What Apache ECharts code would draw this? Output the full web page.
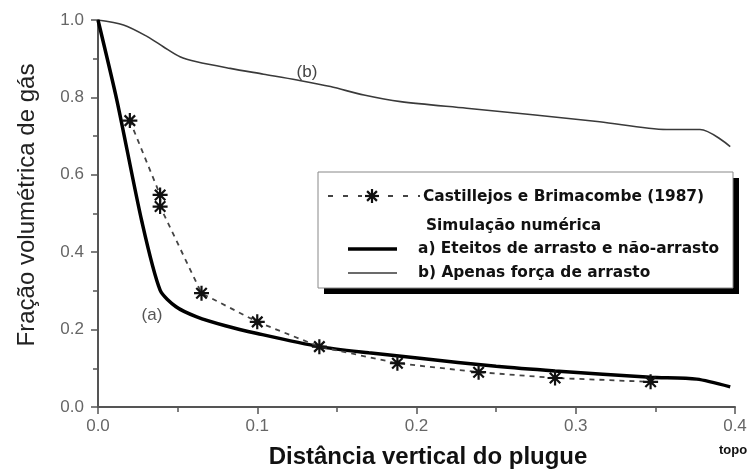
<!DOCTYPE html>
<html>
<head>
<meta charset="utf-8">
<script src="https://cdn.jsdelivr.net/npm/echarts@6/dist/echarts.min.js"></script>
<style>html,body{margin:0;padding:0;background:#fff;}#c{width:750px;height:471px;}</style>
</head>
<body>
<div id="c"></div>
<script>
// Data
var xTicks = [0.0, 0.1, 0.2, 0.3, 0.4];
var yTicks = [0.0, 0.2, 0.4, 0.6, 0.8, 1.0];

// Castillejos e Brimacombe (1987) – experimental points (x, gas fraction)
var expX = [0.020, 0.039, 0.039, 0.065, 0.100, 0.139, 0.188, 0.239, 0.287, 0.347];
var expY = [0.740, 0.548, 0.518, 0.294, 0.220, 0.156, 0.113, 0.090, 0.075, 0.065];

// a) Efeitos de arrasto e não-arrasto (thick)
var aX = [0.000, 0.012, 0.0275, 0.039, 0.049, 0.062, 0.080, 0.100, 0.139, 0.170, 0.202, 0.250, 0.287, 0.347, 0.376, 0.397];
var aY = [1.000, 0.790, 0.480, 0.302, 0.259, 0.233, 0.210, 0.190, 0.156, 0.140, 0.126, 0.105, 0.093, 0.077, 0.072, 0.052];

// b) Apenas força de arrasto (thin)
var bX = [0.000, 0.016, 0.031, 0.041, 0.0515, 0.062, 0.083, 0.104, 0.125, 0.146, 0.167, 0.190, 0.2315, 0.273, 0.315, 0.357, 0.378, 0.397];
var bY = [1.000, 0.987, 0.957, 0.931, 0.905, 0.892, 0.875, 0.860, 0.845, 0.828, 0.806, 0.789, 0.772, 0.755, 0.737, 0.717, 0.717, 0.673];

function zip(xs, ys) { return xs.map(function (x, i) { return [x, ys[i]]; }); }

var star = 'path://M10,0L10,20M0,10L20,10M3,3L17,17M17,3L3,17';

var chart = echarts.init(document.getElementById('c'), null, {renderer: 'canvas'});
var axisCol = '#555';
var labelFont = {color: '#666', fontSize: 17, fontFamily: 'Liberation Sans, Arial, sans-serif'};

var legendX = 318, legendY = 172, legendW = 415, legendH = 116;
var legFont = 'bold 15.4px "DejaVu Sans", sans-serif';

// legend asterisk made of short strokes
function starLines(cx, cy, r) {
  var d = r * 0.7;
  var segs = [[0, -r, 0, r], [-r, 0, r, 0], [-d, -d, d, d], [d, -d, -d, d]];
  return segs.map(function (s) {
    return {type: 'line', z: 13, shape: {x1: cx + s[0], y1: cy + s[1], x2: cx + s[2], y2: cy + s[3]},
      style: {stroke: '#111', lineWidth: 2.2}};
  });
}

var graphics = [
  {type: 'text', x: 27, y: 205, rotation: Math.PI / 2,
    style: {text: 'Fração volumétrica de gás', font: '24px "Liberation Sans", Arial, sans-serif', fill: '#222',
      textAlign: 'center', textVerticalAlign: 'middle'}, silent: true},
  {type: 'text', x: 428, y: 457,
    style: {text: 'Distância vertical do plugue', font: 'bold 24px "Liberation Sans", Arial, sans-serif', fill: '#111',
      textAlign: 'center', textVerticalAlign: 'middle'}},
  {type: 'text', x: 733, y: 450,
    style: {text: 'topo', font: 'bold 13px "Liberation Sans", Arial, sans-serif', fill: '#111',
      textAlign: 'center', textVerticalAlign: 'middle'}},
  {type: 'text', x: 307, y: 72,
    style: {text: '(b)', font: '17px "Liberation Sans", Arial, sans-serif', fill: '#444',
      textAlign: 'center', textVerticalAlign: 'middle'}},
  {type: 'text', x: 152, y: 315,
    style: {text: '(a)', font: '17px "Liberation Sans", Arial, sans-serif', fill: '#555',
      textAlign: 'center', textVerticalAlign: 'middle'}},
  {type: 'rect', shape: {x: legendX + 6, y: legendY + 6, width: legendW, height: legendH},
    style: {fill: '#000'}, z: 10},
  {type: 'rect', shape: {x: legendX, y: legendY, width: legendW, height: legendH},
    style: {fill: '#fff', stroke: '#888', lineWidth: 1}, z: 11},
  {type: 'line', shape: {x1: 328, y1: 196, x2: 420, y2: 196},
    style: {stroke: '#444', lineWidth: 1.8, lineDash: [5, 10]}, z: 12},
  {type: 'rect', shape: {x: 362, y: 186, width: 20, height: 20}, style: {fill: '#fff'}, z: 12},
  {type: 'line', shape: {x1: 348, y1: 249, x2: 397, y2: 249},
    style: {stroke: '#000', lineWidth: 3.5}, z: 12},
  {type: 'line', shape: {x1: 348, y1: 273, x2: 397, y2: 273},
    style: {stroke: '#3a3a3a', lineWidth: 1.6}, z: 12},
  {type: 'text', x: 423, y: 197, z: 12,
    style: {text: 'Castillejos e Brimacombe (1987)', font: legFont, fill: '#111', textVerticalAlign: 'middle'}},
  {type: 'text', x: 426, y: 226, z: 12,
    style: {text: 'Simulação numérica', font: legFont, fill: '#111', textVerticalAlign: 'middle'}},
  {type: 'text', x: 418, y: 249, z: 12,
    style: {text: 'a) Eteitos de arrasto e não-arrasto', font: legFont, fill: '#111', textVerticalAlign: 'middle'}},
  {type: 'text', x: 418, y: 273, z: 12,
    style: {text: 'b) Apenas força de arrasto', font: legFont, fill: '#111', textVerticalAlign: 'middle'}}
].concat(starLines(372, 196, 7));

chart.setOption({
  backgroundColor: '#fff',
  animation: false,
  grid: {left: 98, right: 15, top: 20, bottom: 64, containLabel: false},
  xAxis: {
    type: 'value', min: xTicks[0], max: xTicks[xTicks.length - 1], interval: 0.1,
    axisLine: {show: true, lineStyle: {color: axisCol, width: 2}},
    axisTick: {show: true, length: 7, lineStyle: {color: axisCol, width: 1.5}},
    minorTick: {show: true, splitNumber: 2, length: 5, lineStyle: {color: axisCol, width: 1.5}},
    splitLine: {show: false},
    axisLabel: Object.assign({margin: 11, formatter: function (v) { return v.toFixed(1); }}, labelFont)
  },
  yAxis: {
    type: 'value', min: yTicks[0], max: yTicks[yTicks.length - 1], interval: 0.2,
    axisLine: {show: true, lineStyle: {color: axisCol, width: 2}},
    axisTick: {show: true, length: 7, lineStyle: {color: axisCol, width: 1.5}},
    minorTick: {show: true, splitNumber: 2, length: 5, lineStyle: {color: axisCol, width: 1.5}},
    splitLine: {show: false},
    axisLabel: Object.assign({margin: 14, formatter: function (v) { return v.toFixed(1); }}, labelFont)
  },
  series: [
    {
      name: 'b) Apenas força de arrasto', type: 'line', data: zip(bX, bY),
      showSymbol: false, smooth: 0.3, lineStyle: {color: '#3a3a3a', width: 1.6}, z: 2
    },
    {
      name: 'a) Eteitos de arrasto e não-arrasto', type: 'line', data: zip(aX, aY),
      showSymbol: false, smooth: 0.25, lineStyle: {color: '#000', width: 3.5}, z: 3
    },
    {
      name: 'Castillejos e Brimacombe (1987)', type: 'line', data: zip(expX, expY),
      symbol: star, symbolSize: 15, showSymbol: true,
      lineStyle: {color: '#444', width: 1.8, type: [5, 5]},
      itemStyle: {color: 'transparent', borderColor: '#111', borderWidth: 2.2},
      z: 4
    }
  ],
  graphic: graphics
});
</script>
</body>
</html>
